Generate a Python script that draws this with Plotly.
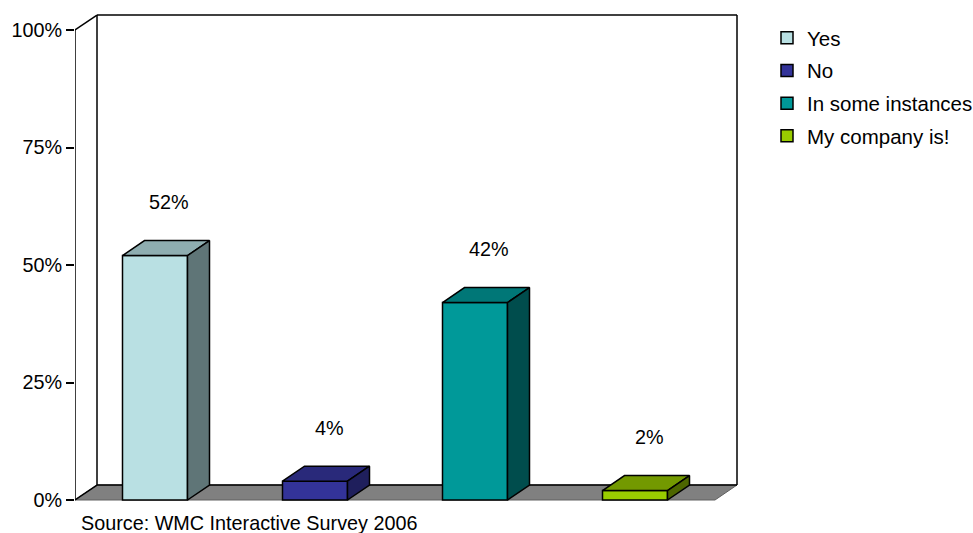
import plotly.graph_objects as go

# Survey answers and their shares (%)
categories = ["Yes", "No", "In some instances", "My company is!"]
values = [52, 4, 42, 2]
value_labels = ["52%", "4%", "42%", "2%"]

# Face colours for each bar: front, top, side
front_colors = ["#B9E0E3", "#333399", "#009999", "#99CC00"]
top_colors = ["#8EADB0", "#29297A", "#007777", "#739900"]
side_colors = ["#5F7577", "#1F1F5C", "#004D4D", "#4D6600"]

y_ticks = [0, 25, 50, 75, 100]
y_tick_text = ["0%", "25%", "50%", "75%", "100%"]

source_note = "Source: WMC Interactive Survey 2006"

# Pseudo-3D geometry (in axis units)
BAR_W = 0.40625
DX = 0.1375
DY = 3.19
X_MIN, X_MAX = -0.5, 3.5
FONT = "Liberation Sans, Arial, sans-serif"
FS = 19.8
FS_LEGEND = 20.5

fig = go.Figure()

# Front faces of the bars (also provide the legend entries)
for i, (cat, v, c) in enumerate(zip(categories, values, front_colors)):
    fig.add_trace(go.Bar(
        x=[i], y=[v], width=BAR_W, name=cat, legendgroup=cat,
        marker=dict(color=c, line=dict(color="black", width=1.5)),
        hoverinfo="skip",
    ))

# Top and side faces of the bars
for i, (v, tc, sc) in enumerate(zip(values, top_colors, side_colors)):
    x0, x1 = i - BAR_W / 2, i + BAR_W / 2
    fig.add_trace(go.Scatter(
        x=[x0, x1, x1 + DX, x0 + DX, x0],
        y=[v, v, v + DY, v + DY, v],
        mode="lines", fill="toself", fillcolor=tc,
        line=dict(color="black", width=1.5),
        showlegend=False, hoverinfo="skip",
    ))
    fig.add_trace(go.Scatter(
        x=[x1, x1, x1 + DX, x1 + DX, x1],
        y=[0, v, v + DY, DY, 0],
        mode="lines", fill="toself", fillcolor=sc,
        line=dict(color="black", width=1.5),
        showlegend=False, hoverinfo="skip",
    ))

shapes = []
# floor
shapes.append(dict(
    type="path", layer="below", xref="x", yref="y",
    path=f"M{X_MIN},0 L{X_MAX},0 L{X_MAX + DX},{DY} L{X_MIN + DX},{DY} Z",
    fillcolor="#808080", line=dict(color="#606060", width=1),
))
# left side wall and back wall outlines
edges = [
    (X_MIN, 0, X_MIN, 100),
    (X_MIN, 100, X_MIN + DX, 100 + DY),
    (X_MIN, 0, X_MIN + DX, DY),
    (X_MIN + DX, DY, X_MIN + DX, 100 + DY),
    (X_MIN + DX, 100 + DY, X_MAX + DX, 100 + DY),
    (X_MAX + DX, 100 + DY, X_MAX + DX, DY),
    (X_MIN + DX, DY, X_MAX + DX, DY),
]
for x0, y0, x1, y1 in edges:
    shapes.append(dict(type="line", layer="below", xref="x", yref="y",
                       x0=x0, y0=y0, x1=x1, y1=y1,
                       line=dict(color="black", width=1.5)))

annotations = []
for i, (v, t) in enumerate(zip(values, value_labels)):
    annotations.append(dict(
        x=i + 0.09, y=v + 11.3, xref="x", yref="y", text=t, showarrow=False,
        font=dict(family=FONT, size=FS, color="black"),
        xanchor="center", yanchor="middle",
    ))
annotations.append(dict(
    x=4 / 665, y=-21 / 490, xref="paper", yref="paper", text=source_note,
    showarrow=False, xanchor="left", yanchor="middle",
    font=dict(family=FONT, size=FS, color="black"),
))

fig.update_layout(
    width=973, height=533,
    margin=dict(l=75, r=233, t=12, b=31),
    paper_bgcolor="white", plot_bgcolor="rgba(0,0,0,0)",
    barmode="overlay",
    font=dict(family=FONT, size=FS, color="black"),
    shapes=shapes, annotations=annotations,
    xaxis=dict(range=[X_MIN, X_MIN + 665 / 160], visible=False, fixedrange=True),
    yaxis=dict(
        range=[-2 / 4.7, 488 / 4.7], tickvals=y_ticks, ticktext=y_tick_text,
        ticks="outside", ticklen=8, tickwidth=1.5, tickcolor="black",
        showgrid=False, zeroline=False, showline=False,
        tickfont=dict(family=FONT, size=FS, color="black"), fixedrange=True,
    ),
    legend=dict(
        xref="container", yref="container", x=767 / 973, y=1 - 18 / 533,
        xanchor="left", yanchor="top", tracegroupgap=3,
        font=dict(family=FONT, size=FS_LEGEND, color="black"),
        bgcolor="rgba(0,0,0,0)",
    ),
    showlegend=True,
)

fig.write_html("out.html")
